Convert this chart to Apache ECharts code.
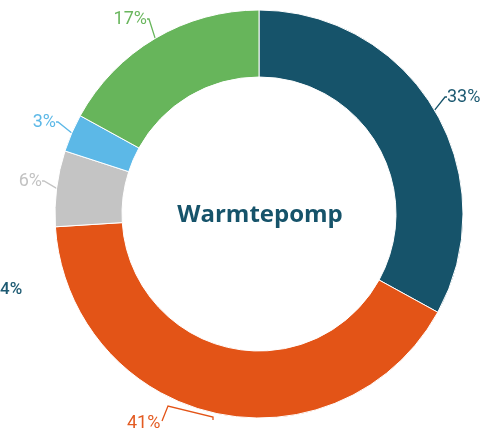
<!DOCTYPE html>
<html>
<head>
<meta charset="utf-8">
<script src="https://cdn.jsdelivr.net/npm/echarts@6/dist/echarts.min.js"></script>
<style>html,body{margin:0;padding:0;background:#fff;}#c{width:481px;height:428px;}</style>
</head>
<body>
<div id="c"></div>
<script>
const categories = ['Segment A', 'Segment B', 'Segment C', 'Segment D', 'Segment E'];
const values = [33, 41, 6, 3, 17];
const colors = ['#16536a', '#e35417', '#c4c4c4', '#5cb8e7', '#67b55b'];
const labelColors = ['#1d5a72', '#e35b22', '#c2c2c2', '#5cb8e7', '#6ab65e'];
const centerTitle = 'Warmtepomp';
const strayLabel = '4%';
// label placement (style): [x, y, align]
const labelPlaces = [[447, 97, 'left'], [127, 423, 'left'], [42, 181, 'right'], [56, 122, 'right'], [147, 19, 'right']];
// bracket-shaped leader for the bottom label (style)
const bottomLeader = [[213, 420], [213, 417], [168, 406], [162, 421]];

const chart = echarts.init(document.getElementById('c'), null, {renderer: 'canvas'});
const data = categories.map((n, i) => ({
  name: n,
  value: values[i],
  itemStyle: {color: colors[i]},
  label: {color: labelColors[i]},
  labelLine: {lineStyle: {color: colors[i]}}
}));
chart.setOption({
  animation: false,
  graphic: [
    {type: 'text', left: 0, top: 281, style: {text: strayLabel, fill: '#1d5a72', fontFamily: 'Roboto', fontSize: 17, fontWeight: 500}},
    {type: 'text', x: 260, y: 215, style: {text: centerTitle, fill: '#16536a', fontFamily: 'Open Sans', fontWeight: 'bold', fontSize: 24, align: 'center', verticalAlign: 'middle'}}
  ],
  series: [{
    type: 'pie',
    center: [259, 214],
    radius: [137, 204],
    startAngle: 90,
    clockwise: true,
    avoidLabelOverlap: false,
    itemStyle: {borderColor: '#ffffff', borderWidth: 1},
    label: {
      show: true,
      position: 'outside',
      formatter: '{c}%',
      fontFamily: 'Roboto',
      fontSize: 18,
      fontWeight: 'normal'
    },
    labelLine: {show: true, length: 12, length2: 2, lineStyle: {width: 1.3}},
    labelLayout: function (p) {
      const pl = labelPlaces[p.dataIndex];
      const out = {x: pl[0], y: pl[1], align: pl[2], verticalAlign: 'middle'};
      if (p.dataIndex === 1) out.labelLinePoints = bottomLeader;
      return out;
    },
    data: data
  }]
});
</script>
</body>
</html>
